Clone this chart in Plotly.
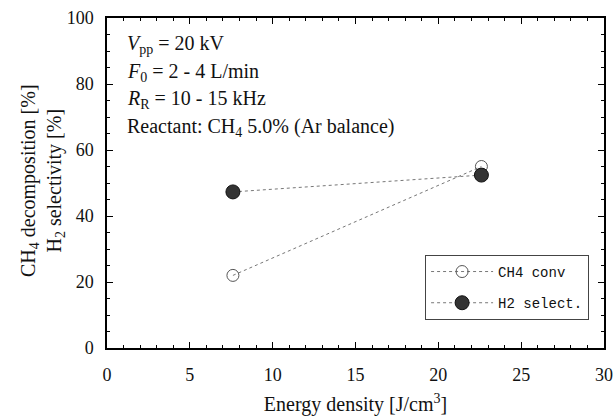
import plotly.graph_objects as go

energy = [7.6, 22.6]
ch4_conv = [22.0, 55.0]
h2_select = [47.3, 52.4]

x_ticks = [0, 5, 10, 15, 20, 25, 30]
y_ticks = [0, 20, 40, 60, 80, 100]

serif = "Liberation Serif"

fig = go.Figure()
fig.add_trace(go.Scatter(
    x=energy, y=ch4_conv, mode="lines+markers", name="CH4 conv", legendgroup="a",
    line=dict(color="#777777", width=1, dash="dot"),
    marker=dict(symbol="circle-open", size=12, color="#555555", line=dict(width=1))))
fig.add_trace(go.Scatter(
    x=energy, y=h2_select, mode="lines+markers", name="H2 select.", legendgroup="b",
    line=dict(color="#777777", width=1, dash="dot"),
    marker=dict(symbol="circle", size=14, color="#333333",
                line=dict(color="#111111", width=1))))

ann_lines = [
    "<i>V</i><sub>pp</sub> = 20 kV",
    "<i>F</i><sub>0</sub> = 2 - 4 L/min",
    "<i>R</i><sub>R</sub> = 10 - 15 kHz",
    "Reactant: CH<sub>4</sub> 5.0% (Ar balance)",
]
ann_y = [45, 72, 99, 127]
for t, yy in zip(ann_lines, ann_y):
    fig.add_annotation(text=t, xref="paper", yref="paper",
                       x=(125 - 107) / 497, y=(348 - yy) / 330,
                       xanchor="left", yanchor="middle", showarrow=False,
                       font=dict(family=serif, size=20, color="#111111"))

# y-axis title (two lines) placed as a rotated annotation
fig.add_annotation(text="CH<sub>4</sub> decomposition [%]<br>H<sub>2</sub> selectivity [%]",
                   xref="paper", yref="paper",
                   x=(42 - 107) / 497, y=(348 - 181) / 330,
                   xanchor="center", yanchor="middle", textangle=-90, showarrow=False,
                   font=dict(family=serif, size=20, color="#111111"))

axis_common = dict(
    showline=True, linecolor="black", linewidth=1.5, mirror="allticks",
    ticks="inside", ticklen=6, tickwidth=1, tickcolor="black",
    showgrid=False, zeroline=False, automargin=False,
    tickfont=dict(family=serif, size=18, color="#111111"),
)

fig.update_xaxes(range=[0, 30], tickvals=x_ticks, ticklabelstandoff=10,
                 minor=dict(dtick=1, ticks="inside", ticklen=3, tickcolor="black"),
                 title=dict(text="Energy density [J/cm<sup>3</sup>]",
                            font=dict(family=serif, size=20, color="#111111")),
                 **axis_common)
fig.update_yaxes(range=[0, 100], tickvals=y_ticks, ticklabelstandoff=8,
                 minor=dict(dtick=5, ticks="inside", ticklen=3, tickcolor="black"),
                 **axis_common)

fig.update_layout(
    width=614, height=416,
    margin=dict(l=107, r=10, t=18, b=68),
    paper_bgcolor="white", plot_bgcolor="white",
    legend=dict(x=0.64, y=0.282, xanchor="left", yanchor="top",
                bgcolor="white", bordercolor="#444444", borderwidth=1,
                font=dict(family="Liberation Mono", size=14, color="#111111"),
                itemwidth=62, tracegroupgap=10),
    showlegend=True,
)

fig.write_html("out.html")
